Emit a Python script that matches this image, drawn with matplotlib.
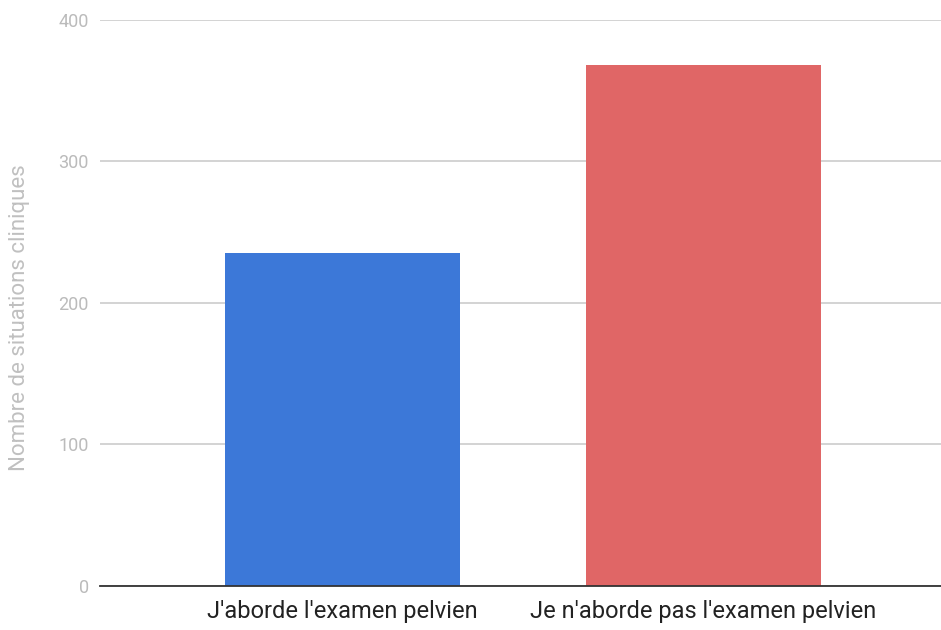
import matplotlib
matplotlib.use("Agg")
import matplotlib.pyplot as plt

# donnees
categories = ["J'aborde l'examen pelvien", "Je n'aborde pas l'examen pelvien"]
valeurs = [235, 368]
couleurs = ["#3c78d8", "#e06666"]
yticks = [0, 100, 200, 300, 400]

plt.rcParams['font.family'] = ['Roboto', 'DejaVu Sans']

fig = plt.figure(figsize=(9.41, 6.30), dpi=100)
ax = fig.add_axes([100/941, 1 - 585.7/630, 841/941, (585.7-20)/630])

x = list(range(len(categories)))
ax.bar(x, valeurs, width=0.652, color=couleurs, zorder=3)

ax.set_xlim(-0.673, 1.66)
ax.set_ylim(0, 400)
ax.set_yticks(yticks)
ax.set_xticks(x)
ax.set_xticklabels(categories, fontsize=17, color="#222222")
ax.tick_params(axis='x', length=0, pad=10)
ax.tick_params(axis='y', length=0, pad=8, labelsize=13, labelcolor="#bbbbbb")

ax.grid(axis='y', color="#cccccc", linewidth=1.2, zorder=0)
for s in ["top", "right", "left"]:
    ax.spines[s].set_visible(False)
ax.spines["bottom"].set_color("#333333")
ax.spines["bottom"].set_linewidth(1.3)
ax.spines["bottom"].set_zorder(4)

fig.text(20/941, 1 - 318/630, "Nombre de situations cliniques", rotation=90,
         fontsize=16, color="#c0c0c0", ha="center", va="center")

fig.savefig("out.png", dpi=100)
